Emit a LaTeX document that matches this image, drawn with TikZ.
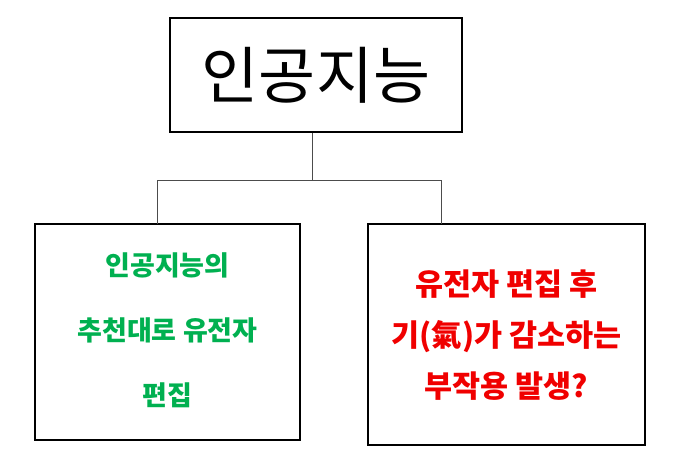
\documentclass[tikz,border=0pt]{standalone}
\usepackage{fontspec}
\newfontfamily\kr{Noto Sans CJK KR}
\definecolor{gr}{RGB}{0,176,80}
\definecolor{rd}{RGB}{240,0,0}
\begin{document}
\begin{tikzpicture}[x=1pt,y=1pt,
 box/.style={draw,line width=1.6pt,inner sep=0pt},
 ln/.style={draw,line width=0.6pt,black!70}]
\useasboundingbox (0,0) rectangle (681,-470);
\node[box,minimum width=292pt,minimum height=114pt] (top) at (316,-75) {\kr\fontsize{62}{62}\selectfont 인공지능};
\node[box,minimum width=265pt,minimum height=216pt] (l) at (167.5,-332) {};
\node[box,minimum width=277pt,minimum height=221pt] (r) at (506.5,-334.5) {};
\node[text=gr,align=center,font=\kr\bfseries\fontsize{27}{65}\selectfont] (lt) at (167.5,-330) {인공지능의\\추천대로 유전자\\편집};
\node[text=rd,align=center,font=\kr\bfseries\fontsize{30.5}{51}\selectfont] (rt) at (506.5,-335) {유전자 편집 후\\기(氣)가 감소하는\\부작용 발생?};
\coordinate (j) at (312,-180);
\draw[ln] (top.south -| j) -- (j);
\draw[ln] (157,-224) -- (157,-180) -- (441,-180) -- (441,-224);
\end{tikzpicture}
\end{document}
